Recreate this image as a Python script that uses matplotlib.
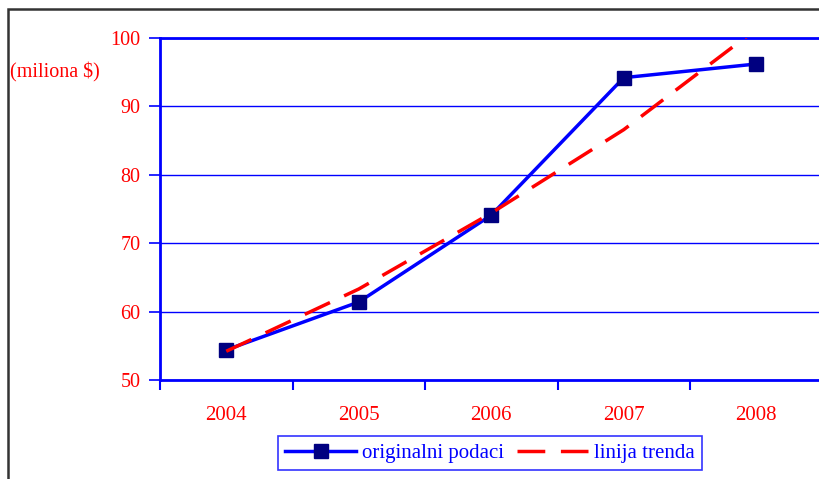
import matplotlib.pyplot as plt
from matplotlib.patches import Rectangle

years = ['2004', '2005', '2006', '2007', '2008']
original = [54.4, 61.4, 74.1, 94.2, 96.2]
trend = [54.2, 63.3, 74.4, 86.6, 101.3]

plt.rcParams['font.family'] = ['Liberation Serif', 'DejaVu Serif']

fig = plt.figure(figsize=(8.2, 4.79), dpi=100)
# outer chart frame (only left and top edges show)
fig.patches.append(Rectangle((8/820, -0.1), 1.2, 1 - 9/479 + 0.1, transform=fig.transFigure,
                             fill=False, edgecolor='#333333', linewidth=1.8))

ax = fig.add_axes([160/820, 1 - 380/479, 662.5/820, 342/479])
x = list(range(len(years)))

ax.plot(x, original, color='#0000ff', linewidth=2.5, marker='s', markersize=10,
        markerfacecolor='#000080', markeredgecolor='#000080', label='originalni podaci', zorder=3)
ax.plot(x, trend, color='#ff0000', linewidth=2.5, dashes=(8, 4.5), label='linija trenda', zorder=4)

ax.set_xlim(-0.5, 4.5)
ax.set_ylim(50, 100)
ax.set_yticks([50, 60, 70, 80, 90, 100])
ax.set_xticks(x)
ax.set_xticklabels(years)
ax.set_xticks([-0.5, 0.5, 1.5, 2.5, 3.5, 4.5], minor=True)
ax.tick_params(axis='x', which='major', length=0, pad=19, labelsize=15, labelcolor='red')
ax.tick_params(axis='x', which='minor', length=7, width=1.5, color='#0000ff', direction='out')
ax.tick_params(axis='y', length=8, width=1.2, color='#0000ff', labelsize=14.5, labelcolor='red', pad=6)

ax.grid(axis='y', color='#0000ff', linewidth=1)
for s in ['left', 'bottom', 'top']:
    ax.spines[s].set_color('#0000ff')
    ax.spines[s].set_linewidth(2)
ax.spines['right'].set_visible(False)

fig.text(10/820, 1 - 72/479, '(miliona $)', color='red', fontsize=14.5, va='center', ha='left')

leg = ax.legend(loc='center', bbox_to_anchor=(490/820, 1 - 453/479), bbox_transform=fig.transFigure,
                ncol=2, fontsize=15, frameon=True, fancybox=False, handlelength=3.4,
                columnspacing=0.6, handletextpad=0.3, borderpad=0.35)
leg.get_frame().set_edgecolor('#0000ff')
leg.get_frame().set_linewidth(1.2)
for t in leg.get_texts():
    t.set_color('#0000ff')

fig.savefig('out.png', dpi=100)
